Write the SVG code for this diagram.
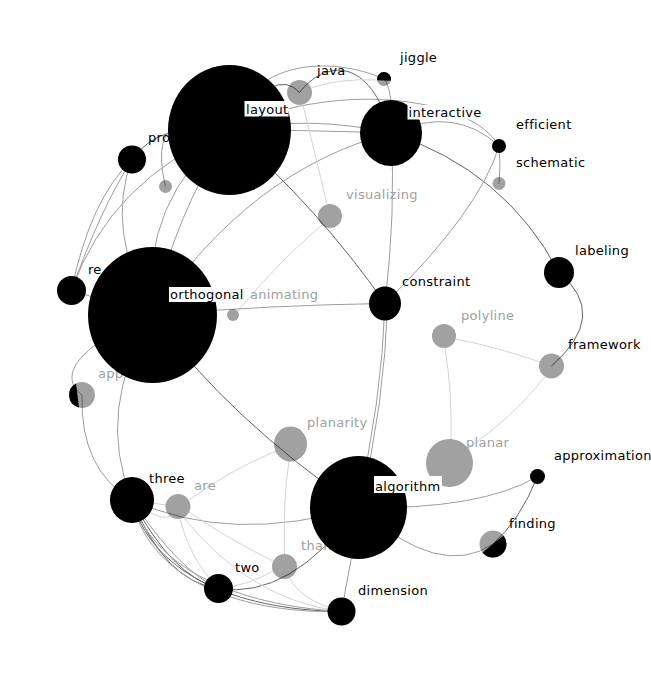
<svg xmlns="http://www.w3.org/2000/svg" width="651" height="683" viewBox="0 0 651 683">
<style>
.e{fill:none;stroke:#9c9c9c;stroke-width:1}
.ed{fill:none;stroke:#666;stroke-width:1}
.el{fill:none;stroke:#d4d4d4;stroke-width:1}
.b{fill:#000}
.g{fill:#000;fill-opacity:0.37}
.bg{fill:#fff}
text{font-family:"DejaVu Sans","Liberation Sans",sans-serif;font-size:13px;letter-spacing:0.3px}
.tb{fill:#000}
.tg{fill:#a0a0a0}
</style>
<rect width="651" height="683" fill="#fff"/>
<g id="edges">
<path class="e" d="M229.5,130 C330,80 470,95 499,146"/>
<path class="e" d="M391,133 Q455,105 499,146"/>
<path class="e" d="M229.5,130 Q310,115 391,133"/>
<path class="e" d="M229.5,130 Q305,130 391,133"/>
<path class="ed" d="M299.5,92.5 Q275,65 229.5,130"/>
<path class="ed" d="M299.5,92.5 C325,60 370,55 391,133"/>
<path class="e" d="M229.5,130 C250,60 330,55 384,79"/>
<path class="el" d="M311,88 Q340,78 378,80"/>
<path class="e" d="M384,79 Q393,88 391,133"/>
<path class="e" d="M391,133 Q396,210 385,303.5"/>
<path class="ed" d="M391,133 Q505,170 559,272.5"/>
<path class="e" d="M391,133 Q250,170 152.5,315"/>
<path class="ed" d="M229.5,130 Q320,210 385,303.5"/>
<path class="el" d="M303,105 Q314,150 327,204"/>
<path class="el" d="M322,225 Q280,260 238,311"/>
<path class="e" d="M152.5,315 Q270,305 385,303.5"/>
<path class="ed" d="M152.5,315 Q230,420 358.5,507.5"/>
<path class="e" d="M385,303.5 Q382,400 357,507.5"/>
<path class="e" d="M387.5,303.5 Q385,400 360,507.5"/>
<path class="e" d="M499,146 Q501,165 499,183.5"/>
<path class="e" d="M499,146 Q480,210 385,303.5"/>
<path class="ed" d="M559,272.5 Q610,315 551.5,366"/>
<path class="el" d="M456,339 Q500,348 540,362"/>
<path class="el" d="M445,348 Q452,390 451,440"/>
<path class="el" d="M545,377 Q510,420 468,448"/>
<path class="e" d="M358.5,507.5 Q480,510 537.5,476.5"/>
<path class="ed" d="M537.5,476.5 Q520,520 493,544"/>
<path class="e" d="M358.5,507.5 Q440,580 493,544"/>
<path class="e" d="M358.5,507.5 Q352,560 341.5,611.5"/>
<path class="e" d="M132,500 Q230,545 358.5,507.5"/>
<path class="el" d="M189,500 Q230,470 276,451"/>
<path class="el" d="M289,461 Q283,500 284.5,554"/>
<path class="ed" d="M218.5,588.5 Q290,600 358.5,507.5"/>
<path class="el" d="M132,500 L166,505"/>
<path class="el" d="M132,500 Q160,522 170,516"/>
<path class="ed" d="M132,500 Q165,582 218.5,588.5"/>
<path class="ed" d="M132,500 Q172,576 218.5,588.5"/>
<path class="e" d="M132,500 Q178,570 218.5,588.5"/>
<path class="ed" d="M132,500 C150,570 230,610 341.5,611.5"/>
<path class="e" d="M132,500 C153,567 233,605 341.5,611.5"/>
<path class="e" d="M132,500 C147,573 228,614 341.5,611.5"/>
<path class="el" d="M180,519 Q190,560 218.5,588.5"/>
<path class="el" d="M184,518 Q250,600 341.5,611.5"/>
<path class="el" d="M189,512 Q230,540 273,561"/>
<path class="el" d="M218.5,588.5 Q250,585 273,571"/>
<path class="el" d="M290,578 Q300,600 341.5,611.5"/>
<path class="e" d="M132,159.5 Q90,200 71.5,290.5"/>
<path class="e" d="M132,159.5 Q100,210 71.5,290.5"/>
<path class="e" d="M229.5,130 Q110,180 71.5,290.5"/>
<path class="e" d="M132,159.5 Q105,230 152.5,315"/>
<path class="e" d="M229.5,130 Q140,200 152.5,315"/>
<path class="e" d="M229.5,130 Q175,215 152.5,315"/>
<path class="ed" d="M132,159.5 Q160,120 229.5,130"/>
<path class="e" d="M165.5,186.5 Q145,100 229.5,130"/>
<path class="e" d="M71.5,290.5 L152.5,315"/>
<path class="e" d="M152.5,315 C100,335 50,370 82,395"/>
<path class="e" d="M82,395 Q80,470 132,500"/>
<path class="e" d="M152.5,315 Q95,410 132,500"/>
</g>
<g id="n-schematic"><circle class="g" cx="499" cy="183.5" r="6.5"/><text class="tb" x="516" y="167">schematic</text></g>
<g id="n-animating"><circle class="g" cx="233" cy="315" r="6"/><text class="tg" x="250" y="299">animating</text></g>
<g id="n-small"><circle class="g" cx="165.5" cy="186.5" r="6.5"/></g>
<g id="n-jiggle"><circle class="g" cx="384" cy="79" r="7"/><path class="b" d="M377.1,80.3 A7,7 0 1,1 390.8,80.7 Z"/><text class="tb" x="400" y="62">jiggle</text></g>
<g id="n-efficient"><circle class="b" cx="499" cy="146" r="7"/><text class="tb" x="516" y="129">efficient</text></g>
<g id="n-approximation"><circle class="b" cx="537.5" cy="476.5" r="7.5"/><text class="tb" x="554" y="460">approximation</text></g>
<g id="n-visualizing"><circle class="g" cx="330" cy="216" r="12"/><text class="tg" x="346" y="199">visualizing</text></g>
<g id="n-polyline"><circle class="g" cx="444" cy="336" r="12"/><text class="tg" x="461" y="320">polyline</text></g>
<g id="n-are"><circle class="g" cx="178" cy="506.5" r="12.5"/><text class="tg" x="194" y="490">are</text></g>
<g id="n-java"><circle class="g" cx="299.5" cy="92.5" r="12.5"/><text class="tb" x="317" y="75">java</text></g>
<g id="n-framework"><circle class="g" cx="551.5" cy="366" r="12.5"/><text class="tb" x="568" y="349">framework</text></g>
<g id="n-than"><circle class="g" cx="284.5" cy="566.5" r="12.5"/><text class="tg" x="301" y="550">than</text></g>
<g id="n-app"><circle class="g" cx="82" cy="395" r="13"/><path class="b" d="M76,383.5 A13,13 0 0,0 79,407.6 Z"/><text class="tg" x="98" y="378">app</text></g>
<g id="n-finding"><circle class="g" cx="493" cy="544" r="13.5"/><path class="b" d="M503.5,535.5 A13.5,13.5 0 0,1 482.5,552.5 Z"/><text class="tb" x="509" y="528">finding</text></g>
<g id="n-dimension"><circle class="b" cx="341.5" cy="611.5" r="14"/><text class="tb" x="358" y="595">dimension</text></g>
<g id="n-pro"><circle class="b" cx="132" cy="159.5" r="14"/><text class="tb" x="148" y="142">pro</text></g>
<g id="n-re"><circle class="b" cx="71.5" cy="290.5" r="14.5"/><text class="tb" x="88" y="274">re</text></g>
<g id="n-two"><circle class="b" cx="218.5" cy="588.5" r="14.5"/><text class="tb" x="235" y="572">two</text></g>
<g id="n-labeling"><ellipse class="b" cx="559" cy="272.5" rx="15" ry="15.5"/><text class="tb" x="575" y="255">labeling</text></g>
<g id="n-constraint"><ellipse class="b" cx="385" cy="303.5" rx="16" ry="17"/><text class="tb" x="402" y="286">constraint</text></g>
<g id="n-planarity"><ellipse class="g" cx="290.5" cy="444" rx="16.5" ry="17.5"/><text class="tg" x="307" y="427">planarity</text></g>
<g id="n-three"><ellipse class="b" cx="132" cy="500" rx="22" ry="23"/><text class="tb" x="149" y="483">three</text></g>
<g id="n-planar"><ellipse class="g" cx="449.5" cy="463" rx="23.5" ry="24"/><text class="tg" x="466" y="447">planar</text></g>
<g id="n-interactive"><ellipse class="b" cx="391" cy="133" rx="31" ry="33"/><rect class="bg" x="407.5" y="105" width="74" height="14.5"/><text class="tb" x="408.5" y="116.5">interactive</text></g>
<g id="n-algorithm"><ellipse class="b" cx="358.5" cy="507.5" rx="48.5" ry="51.5"/><rect class="bg" x="374" y="476" width="68" height="17"/><text class="tb" x="375" y="491">algorithm</text></g>
<g id="n-layout"><ellipse class="b" cx="229.5" cy="130" rx="61.5" ry="65"/><rect class="bg" x="244.5" y="101" width="44" height="15.5"/><text class="tb" x="246" y="113.5">layout</text></g>
<g id="n-orthogonal"><ellipse class="b" cx="152.5" cy="315" rx="64.5" ry="68"/><rect class="bg" x="169" y="287" width="76" height="15"/><text class="tb" x="170" y="299">orthogonal</text></g>
</svg>
